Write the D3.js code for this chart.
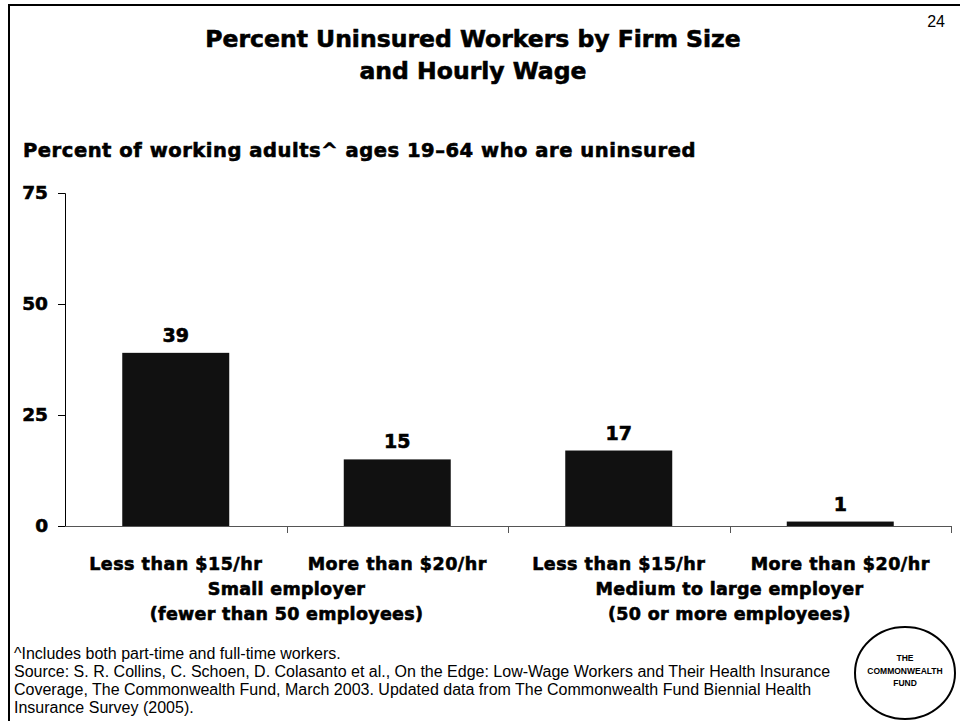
<!DOCTYPE html>
<html>
<head>
<meta charset="utf-8">
<script src="https://cdn.jsdelivr.net/npm/d3@7"></script>
<style>
  html, body { margin: 0; padding: 0; background: #fff; }
  svg { display: block; }
  .heavy { font-family: "DejaVu Sans", sans-serif; font-weight: bold; fill: #000; stroke: #000; stroke-width: 0.6px; }
  .reg { font-family: "Liberation Sans", Arial, sans-serif; fill: #000; }
</style>
</head>
<body>
<svg id="chart" width="960" height="721"></svg>
<script>
// ---- data ----
const categories = ["Less than $15/hr", "More than $20/hr", "Less than $15/hr ", "More than $20/hr "];
const values = [39, 15, 17, 1];
const groups = [
  ["Small employer", "(fewer than 50 employees)"],
  ["Medium to large employer", "(50 or more employees)"]
];
const yTicks = [0, 25, 50, 75];
const titleLines = ["Percent Uninsured Workers by Firm Size", "and Hourly Wage"];
const subtitle = "Percent of working adults^ ages 19\u201364 who are uninsured";
const footnotes = [
  "^Includes both part-time and full-time workers.",
  "Source: S. R. Collins, C. Schoen, D. Colasanto et al., On the Edge: Low-Wage Workers and Their Health Insurance",
  "Coverage, The Commonwealth Fund, March 2003. Updated data from The Commonwealth Fund Biennial Health",
  "Insurance Survey (2005)."
];
const pageNumber = "24";
const logoLines = ["THE", "COMMONWEALTH", "FUND"];

// ---- drawing ----
const svg = d3.select("#chart");

// slide frame (top and left rules)
svg.append("line").attr("x1", 8).attr("x2", 960).attr("y1", 5).attr("y2", 5)
  .attr("stroke", "#000").attr("stroke-width", 2);
svg.append("line").attr("x1", 9).attr("x2", 9).attr("y1", 4).attr("y2", 721)
  .attr("stroke", "#000").attr("stroke-width", 2);

// page number
svg.append("text").attr("class", "reg").attr("x", 945).attr("y", 27)
  .attr("text-anchor", "end").attr("font-size", 16).text(pageNumber);

// title
svg.append("g").selectAll("text").data(titleLines).join("text")
  .attr("class", "heavy")
  .attr("x", 473).attr("y", (d, i) => 47 + i * 32)
  .attr("text-anchor", "middle").attr("font-size", 23.5)
  .text(d => d);

// subtitle
svg.append("text").attr("class", "heavy").attr("x", 23).attr("y", 157)
  .attr("font-size", 19.5).attr("letter-spacing", 0.55).text(subtitle);

// scales
const x = d3.scaleBand().domain(categories).range([65, 951])
  .paddingInner(0.517).paddingOuter(0.2585);
const y = d3.scaleLinear().domain([0, 75]).range([526, 193]);

// y axis
const yAxis = svg.append("g").attr("transform", "translate(65,0)")
  .call(d3.axisLeft(y).tickValues(yTicks).tickSize(7).tickPadding(10).tickFormat(d3.format("d")));
yAxis.select(".domain").attr("stroke", "#000").attr("stroke-width", 1);
yAxis.selectAll(".tick line").attr("stroke", "#000");
yAxis.selectAll(".tick text").attr("class", "heavy").attr("font-size", 18.5)
  .attr("font-family", "DejaVu Sans").attr("font-weight", "bold").attr("fill", "#000");

// bars
svg.append("g").selectAll("rect").data(values).join("rect")
  .attr("x", (d, i) => x(categories[i]))
  .attr("width", x.bandwidth())
  .attr("y", d => y(d))
  .attr("height", d => y(0) - y(d))
  .attr("fill", "#111");

// x axis line and boundary ticks
svg.append("line").attr("x1", 65).attr("x2", 951).attr("y1", y(0) + 0.5).attr("y2", y(0) + 0.5)
  .attr("stroke", "#555").attr("stroke-width", 1);
const boundaries = categories.map(c => x(c) + x.bandwidth() / 2 + x.step() / 2);
svg.append("g").selectAll("line").data(boundaries).join("line")
  .attr("x1", d => Math.round(d) + 0.5).attr("x2", d => Math.round(d) + 0.5)
  .attr("y1", y(0)).attr("y2", y(0) + 7)
  .attr("stroke", "#555");

// value labels
svg.append("g").selectAll("text").data(values).join("text")
  .attr("class", "heavy")
  .attr("x", (d, i) => x(categories[i]) + x.bandwidth() / 2)
  .attr("y", d => y(d) - 11)
  .attr("text-anchor", "middle").attr("font-size", 19)
  .text(d => d);

// category labels
svg.append("g").selectAll("text").data(categories).join("text")
  .attr("class", "heavy")
  .attr("x", d => x(d) + x.bandwidth() / 2)
  .attr("y", 570)
  .attr("text-anchor", "middle").attr("font-size", 17.5).attr("letter-spacing", 0.5)
  .text(d => d.trim());

// group labels
groups.forEach((g, gi) => {
  const c0 = categories[gi * 2], c1 = categories[gi * 2 + 1];
  const cx = (x(c0) + x(c1) + x.bandwidth()) / 2;
  svg.append("g").selectAll("text").data(g).join("text")
    .attr("class", "heavy")
    .attr("x", cx).attr("y", (d, i) => 595 + i * 25)
    .attr("text-anchor", "middle").attr("font-size", 17.5).attr("letter-spacing", 0.3)
    .text(d => d);
});

// footnotes
svg.append("g").selectAll("text").data(footnotes).join("text")
  .attr("class", "reg")
  .attr("x", 14).attr("y", (d, i) => 659 + i * 18)
  .attr("font-size", 16)
  .text(d => d);

// logo
svg.append("ellipse").attr("cx", 905).attr("cy", 673).attr("rx", 50).attr("ry", 46)
  .attr("fill", "#fff").attr("stroke", "#000").attr("stroke-width", 2);
svg.append("g").selectAll("text").data(logoLines).join("text")
  .attr("font-family", "Liberation Sans, Arial, sans-serif").attr("font-weight", "bold")
  .attr("font-size", 8.5)
  .attr("x", 905).attr("y", (d, i) => 661 + i * 12.5)
  .attr("text-anchor", "middle")
  .text(d => d);
</script>
</body>
</html>
